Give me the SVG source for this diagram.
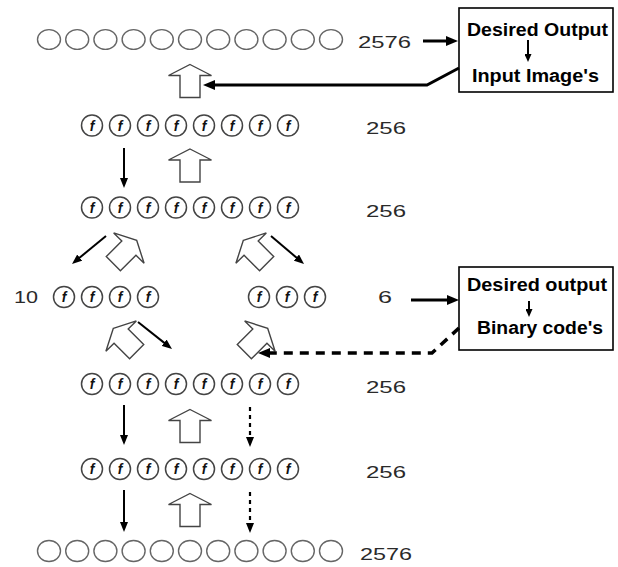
<svg xmlns="http://www.w3.org/2000/svg" width="618" height="567" viewBox="0 0 618 567">
<style>
.pc{fill:#fff;stroke:#666;stroke-width:1.4}
.fc{fill:#fff;stroke:#444;stroke-width:1.5}
.ft{font-family:"Liberation Sans",Arial,sans-serif;font-weight:bold;font-style:italic;font-size:14px;fill:#111;text-anchor:middle}
.num{font-family:"Liberation Sans",Arial,sans-serif;font-size:17px;fill:#2a2a2a}
.bt{font-family:"Liberation Sans",Arial,sans-serif;font-weight:bold;font-size:18px;fill:#000}
.box{fill:#fff;stroke:#000;stroke-width:1.6}
.ho{fill:#fff;stroke:#444;stroke-width:1.4;stroke-linejoin:miter}
.thick{fill:none;stroke:#000;stroke-width:3;marker-end:url(#hb)}
.thin{fill:none;stroke:#000;stroke-width:2;marker-end:url(#ht)}
.dot{fill:none;stroke:#000;stroke-width:2.2;stroke-dasharray:4 4;marker-end:url(#ht)}
.dash{fill:none;stroke:#000;stroke-width:3.5;stroke-dasharray:9 7;marker-end:url(#hb)}
.small{fill:none;stroke:#000;stroke-width:2;marker-end:url(#hs)}
</style>
<defs>
<marker id="hb" viewBox="0 0 12 10" refX="3" refY="5" markerWidth="12" markerHeight="10" markerUnits="userSpaceOnUse" orient="auto"><path d="M0,0 L12,5 L0,10 z" fill="#000"/></marker>
<marker id="ht" viewBox="0 0 10 8" refX="3" refY="4" markerWidth="10" markerHeight="8" markerUnits="userSpaceOnUse" orient="auto"><path d="M0,0 L10,4 L0,8 z" fill="#000"/></marker>
<marker id="hs" viewBox="0 0 8 7" refX="2" refY="3.5" markerWidth="8" markerHeight="7" markerUnits="userSpaceOnUse" orient="auto"><path d="M0,0 L8,3.5 L0,7 z" fill="#000"/></marker>
<path id="hollow" d="M0,-16.5 L21.5,-5.5 L10,-5.5 L10,16.5 L-10,16.5 L-10,-5.5 L-21.5,-5.5 Z"/>
</defs>
<rect width="618" height="567" fill="#fff"/>

<g id="input-layer">
<ellipse class="pc" cx="49" cy="39.5" rx="11.5" ry="9.9"/>
<ellipse class="pc" cx="77.2" cy="39.5" rx="11.5" ry="9.9"/>
<ellipse class="pc" cx="105.4" cy="39.5" rx="11.5" ry="9.9"/>
<ellipse class="pc" cx="133.6" cy="39.5" rx="11.5" ry="9.9"/>
<ellipse class="pc" cx="161.8" cy="39.5" rx="11.5" ry="9.9"/>
<ellipse class="pc" cx="190" cy="39.5" rx="11.5" ry="9.9"/>
<ellipse class="pc" cx="218.2" cy="39.5" rx="11.5" ry="9.9"/>
<ellipse class="pc" cx="246.4" cy="39.5" rx="11.5" ry="9.9"/>
<ellipse class="pc" cx="274.6" cy="39.5" rx="11.5" ry="9.9"/>
<ellipse class="pc" cx="302.8" cy="39.5" rx="11.5" ry="9.9"/>
<ellipse class="pc" cx="331" cy="39.5" rx="11.5" ry="9.9"/>
<text class="num" x="358" y="48" textLength="53" lengthAdjust="spacingAndGlyphs">2576</text>
</g>

<g id="box-top">
<rect class="box" x="459" y="8" width="154" height="84"/>
<text class="bt" x="467" y="36" textLength="141" lengthAdjust="spacingAndGlyphs">Desired Output</text>
<line class="small" x1="528" y1="40" x2="528" y2="56"/>
<text class="bt" x="472" y="82" textLength="127" lengthAdjust="spacingAndGlyphs">Input Image's</text>
</g>

<g id="hidden-1">
<circle class="fc" cx="92" cy="125.5" r="10.5"/><text class="ft" x="92" y="130.5">f</text>
<circle class="fc" cx="120" cy="125.5" r="10.5"/><text class="ft" x="120" y="130.5">f</text>
<circle class="fc" cx="148" cy="125.5" r="10.5"/><text class="ft" x="148" y="130.5">f</text>
<circle class="fc" cx="176" cy="125.5" r="10.5"/><text class="ft" x="176" y="130.5">f</text>
<circle class="fc" cx="204" cy="125.5" r="10.5"/><text class="ft" x="204" y="130.5">f</text>
<circle class="fc" cx="232" cy="125.5" r="10.5"/><text class="ft" x="232" y="130.5">f</text>
<circle class="fc" cx="260" cy="125.5" r="10.5"/><text class="ft" x="260" y="130.5">f</text>
<circle class="fc" cx="288" cy="125.5" r="10.5"/><text class="ft" x="288" y="130.5">f</text>
<text class="num" x="366" y="134" textLength="40" lengthAdjust="spacingAndGlyphs">256</text>
</g>

<g id="hidden-2">
<circle class="fc" cx="92" cy="207.5" r="10.5"/><text class="ft" x="92" y="212.5">f</text>
<circle class="fc" cx="120" cy="207.5" r="10.5"/><text class="ft" x="120" y="212.5">f</text>
<circle class="fc" cx="148" cy="207.5" r="10.5"/><text class="ft" x="148" y="212.5">f</text>
<circle class="fc" cx="176" cy="207.5" r="10.5"/><text class="ft" x="176" y="212.5">f</text>
<circle class="fc" cx="204" cy="207.5" r="10.5"/><text class="ft" x="204" y="212.5">f</text>
<circle class="fc" cx="232" cy="207.5" r="10.5"/><text class="ft" x="232" y="212.5">f</text>
<circle class="fc" cx="260" cy="207.5" r="10.5"/><text class="ft" x="260" y="212.5">f</text>
<circle class="fc" cx="288" cy="207.5" r="10.5"/><text class="ft" x="288" y="212.5">f</text>
<text class="num" x="366" y="217" textLength="40" lengthAdjust="spacingAndGlyphs">256</text>
</g>

<g id="code-left">
<text class="num" x="14" y="303" textLength="24" lengthAdjust="spacingAndGlyphs">10</text>
<circle class="fc" cx="64" cy="297" r="10.5"/><text class="ft" x="64" y="302">f</text>
<circle class="fc" cx="92" cy="297" r="10.5"/><text class="ft" x="92" y="302">f</text>
<circle class="fc" cx="120" cy="297" r="10.5"/><text class="ft" x="120" y="302">f</text>
<circle class="fc" cx="148" cy="297" r="10.5"/><text class="ft" x="148" y="302">f</text>
</g>

<g id="code-right">
<circle class="fc" cx="259" cy="297" r="10.5"/><text class="ft" x="259" y="302">f</text>
<circle class="fc" cx="287" cy="297" r="10.5"/><text class="ft" x="287" y="302">f</text>
<circle class="fc" cx="315" cy="297" r="10.5"/><text class="ft" x="315" y="302">f</text>
<text class="num" x="378" y="303" textLength="14" lengthAdjust="spacingAndGlyphs">6</text>
</g>

<g id="box-bottom">
<rect class="box" x="459" y="267" width="154" height="83"/>
<text class="bt" x="467" y="291" textLength="140" lengthAdjust="spacingAndGlyphs">Desired output</text>
<line class="small" x1="529" y1="301" x2="529" y2="311"/>
<text class="bt" x="477" y="334" textLength="126" lengthAdjust="spacingAndGlyphs">Binary code's</text>
</g>

<g id="hidden-3">
<circle class="fc" cx="92" cy="384" r="10.5"/><text class="ft" x="92" y="389">f</text>
<circle class="fc" cx="120" cy="384" r="10.5"/><text class="ft" x="120" y="389">f</text>
<circle class="fc" cx="148" cy="384" r="10.5"/><text class="ft" x="148" y="389">f</text>
<circle class="fc" cx="176" cy="384" r="10.5"/><text class="ft" x="176" y="389">f</text>
<circle class="fc" cx="204" cy="384" r="10.5"/><text class="ft" x="204" y="389">f</text>
<circle class="fc" cx="232" cy="384" r="10.5"/><text class="ft" x="232" y="389">f</text>
<circle class="fc" cx="260" cy="384" r="10.5"/><text class="ft" x="260" y="389">f</text>
<circle class="fc" cx="288" cy="384" r="10.5"/><text class="ft" x="288" y="389">f</text>
<text class="num" x="366" y="393" textLength="40" lengthAdjust="spacingAndGlyphs">256</text>
</g>

<g id="hidden-4">
<circle class="fc" cx="92" cy="469" r="10.5"/><text class="ft" x="92" y="474">f</text>
<circle class="fc" cx="120" cy="469" r="10.5"/><text class="ft" x="120" y="474">f</text>
<circle class="fc" cx="148" cy="469" r="10.5"/><text class="ft" x="148" y="474">f</text>
<circle class="fc" cx="176" cy="469" r="10.5"/><text class="ft" x="176" y="474">f</text>
<circle class="fc" cx="204" cy="469" r="10.5"/><text class="ft" x="204" y="474">f</text>
<circle class="fc" cx="232" cy="469" r="10.5"/><text class="ft" x="232" y="474">f</text>
<circle class="fc" cx="260" cy="469" r="10.5"/><text class="ft" x="260" y="474">f</text>
<circle class="fc" cx="288" cy="469" r="10.5"/><text class="ft" x="288" y="474">f</text>
<text class="num" x="366" y="478" textLength="40" lengthAdjust="spacingAndGlyphs">256</text>
</g>

<g id="output-layer">
<ellipse class="pc" cx="49" cy="551" rx="11.5" ry="10.5"/>
<ellipse class="pc" cx="77.2" cy="551" rx="11.5" ry="10.5"/>
<ellipse class="pc" cx="105.4" cy="551" rx="11.5" ry="10.5"/>
<ellipse class="pc" cx="133.6" cy="551" rx="11.5" ry="10.5"/>
<ellipse class="pc" cx="161.8" cy="551" rx="11.5" ry="10.5"/>
<ellipse class="pc" cx="190" cy="551" rx="11.5" ry="10.5"/>
<ellipse class="pc" cx="218.2" cy="551" rx="11.5" ry="10.5"/>
<ellipse class="pc" cx="246.4" cy="551" rx="11.5" ry="10.5"/>
<ellipse class="pc" cx="274.6" cy="551" rx="11.5" ry="10.5"/>
<ellipse class="pc" cx="302.8" cy="551" rx="11.5" ry="10.5"/>
<ellipse class="pc" cx="331" cy="551" rx="11.5" ry="10.5"/>
<text class="num" x="360" y="560" textLength="52" lengthAdjust="spacingAndGlyphs">2576</text>
</g>

<g id="connectors">
<use href="#hollow" class="ho" transform="translate(190,81)"/>
<use href="#hollow" class="ho" transform="translate(190,165.5)"/>
<use href="#hollow" class="ho" transform="translate(125,252) rotate(45)"/>
<use href="#hollow" class="ho" transform="translate(255,252) rotate(-45)"/>
<use href="#hollow" class="ho" transform="translate(125,340) rotate(-45)"/>
<use href="#hollow" class="ho" transform="translate(256,340) rotate(45)"/>
<use href="#hollow" class="ho" transform="translate(190,426)"/>
<use href="#hollow" class="ho" transform="translate(190,510)"/>
<line class="thick" x1="423" y1="41" x2="449" y2="41"/>
<path class="thick" d="M459,68 L427,85 L212,85"/>
<line class="thick" x1="411" y1="300" x2="450" y2="300"/>
<path class="dash" d="M459,328 L432,353 L267,353"/>
<line class="thin" x1="124" y1="148" x2="124" y2="181"/>
<line class="thin" x1="106" y1="236" x2="77.4" y2="259.5"/>
<line class="thin" x1="271" y1="236" x2="298.7" y2="259.5"/>
<line class="thin" x1="138" y1="322" x2="166.5" y2="344.6"/>
<line class="thin" x1="124" y1="405" x2="124" y2="438"/>
<line class="dot" x1="250" y1="407" x2="250" y2="440"/>
<line class="thin" x1="124" y1="490" x2="124" y2="525"/>
<line class="dot" x1="250" y1="492" x2="250" y2="526"/>
</g>
</svg>
